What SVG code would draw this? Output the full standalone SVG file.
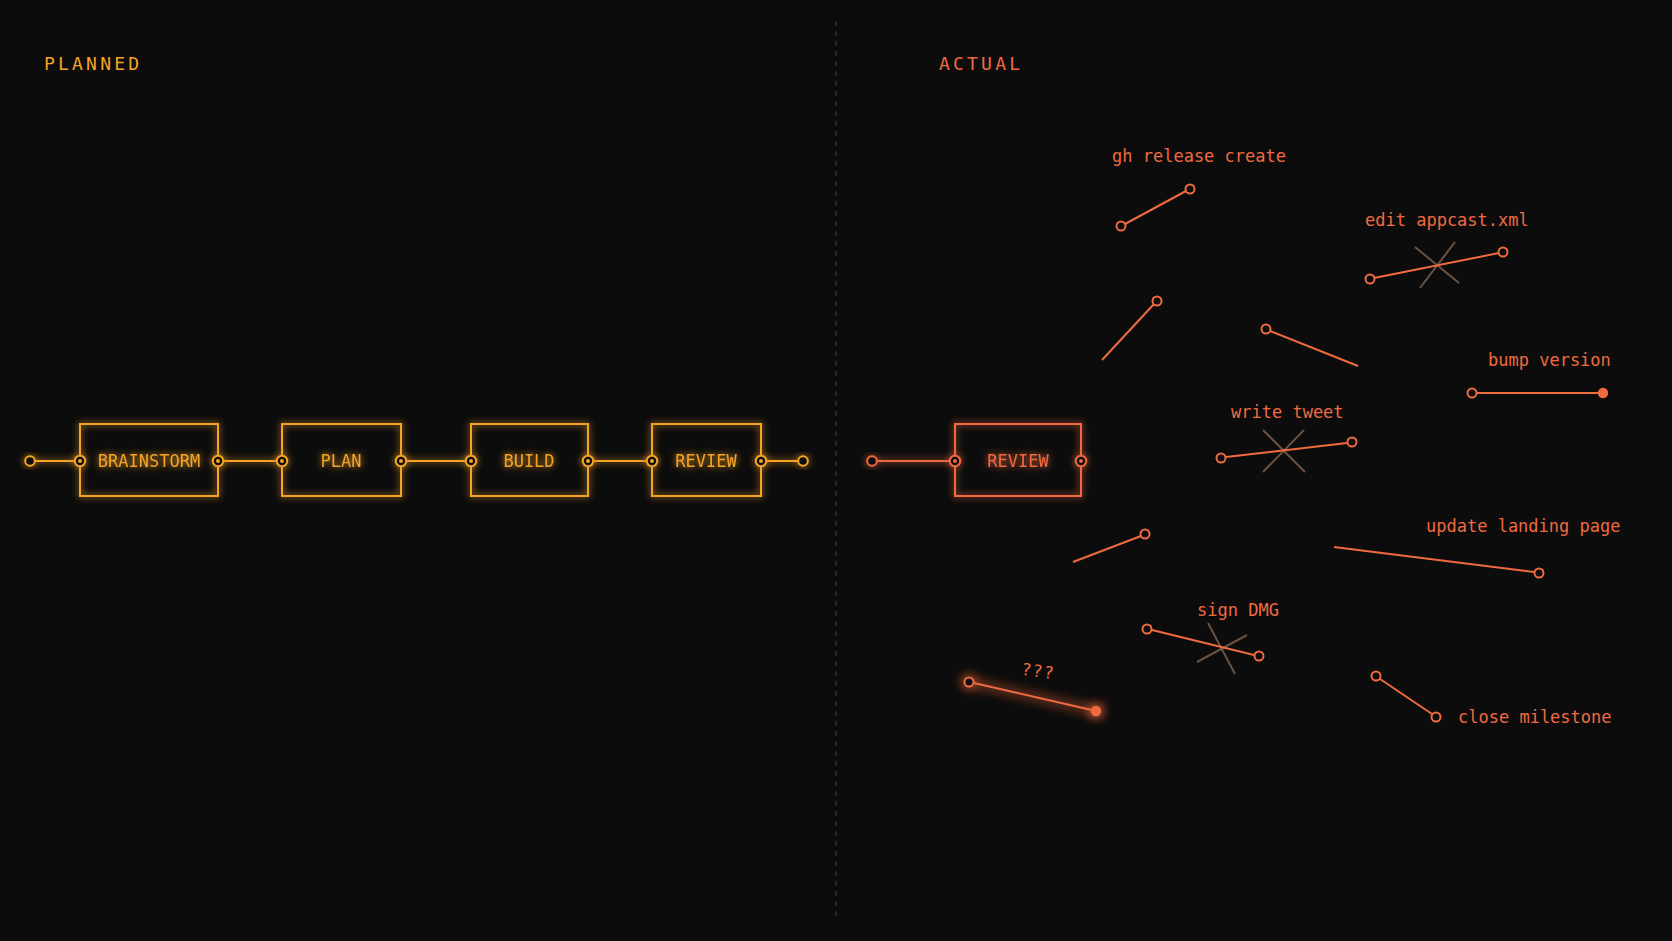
<svg xmlns="http://www.w3.org/2000/svg" width="1672" height="941" viewBox="0 0 1672 941">
<defs>
<style>
.bg{fill:#0c0c0c}
.hdr{font-family:"DejaVu Sans Mono","Liberation Mono",monospace;font-size:18px;letter-spacing:3.2px}
.amb{fill:#f5a325}
.red{fill:#f06a40}
.box{fill:none;stroke-width:2}
.ba{stroke:#f5a325}
.br{stroke:#f06a40}
.lbl{font-family:"DejaVu Sans Mono","Liberation Mono",monospace;font-size:17px}
.ntx{font-family:"DejaVu Sans Mono","Liberation Mono",monospace;font-size:17px;text-anchor:middle}
.wa{stroke:#f5a325;stroke-width:2;fill:none}
.wr{stroke:#f06a40;stroke-width:2;fill:none}
.pa{fill:#0c0c0c;stroke:#f5a325;stroke-width:2}
.pr{fill:#0c0c0c;stroke:#f06a40;stroke-width:2}
.da{fill:#f5a325}
.dr{fill:#f06a40}
.x{stroke:#8a6a55;stroke-opacity:0.75;stroke-width:2}
</style>
<filter id="glow" x="-20%" y="-40%" width="140%" height="180%">
<feGaussianBlur in="SourceGraphic" stdDeviation="3.5" result="b"/>
<feMerge><feMergeNode in="b"/><feMergeNode in="SourceGraphic"/></feMerge>
</filter>
<filter id="glow2" x="-30%" y="-100%" width="160%" height="300%">
<feGaussianBlur in="SourceGraphic" stdDeviation="6" result="b"/>
<feMerge><feMergeNode in="b"/><feMergeNode in="b"/><feMergeNode in="SourceGraphic"/></feMerge>
</filter>
</defs>
<rect class="bg" x="0" y="0" width="1672" height="941"/>
<line x1="836" y1="21" x2="836" y2="918" stroke="#3a3a3a" stroke-width="1.2" stroke-dasharray="5 5"/>
<text class="hdr amb" x="44" y="70">PLANNED</text>
<text class="hdr red" x="939" y="70">ACTUAL</text>

<g id="connectors">
<g filter="url(#glow)">
<line class="wa" x1="35" y1="461" x2="80" y2="461"/>
<line class="wa" x1="218" y1="461" x2="282" y2="461"/>
<line class="wa" x1="401" y1="461" x2="471" y2="461"/>
<line class="wa" x1="588" y1="461" x2="652" y2="461"/>
<line class="wa" x1="761" y1="461" x2="798" y2="461"/>
<circle class="pa" cx="30" cy="461" r="4.8"/>
<circle class="pa" cx="803" cy="461" r="4.8"/>
</g>
<g filter="url(#glow)">
<line class="wr" x1="877" y1="461" x2="955" y2="461"/>
<circle class="pr" cx="872" cy="461" r="4.8"/>
</g>
</g>

<g id="node-brainstorm" filter="url(#glow)">
<rect class="box ba" x="80" y="424" width="138" height="72"/>
<circle class="pa" cx="80" cy="461" r="5.2"/><circle class="da" cx="80" cy="461" r="2"/>
<circle class="pa" cx="218" cy="461" r="5.2"/><circle class="da" cx="218" cy="461" r="2"/>
<text class="ntx amb" x="149" y="467">BRAINSTORM</text>
</g>
<g id="node-plan" filter="url(#glow)">
<rect class="box ba" x="282" y="424" width="119" height="72"/>
<circle class="pa" cx="282" cy="461" r="5.2"/><circle class="da" cx="282" cy="461" r="2"/>
<circle class="pa" cx="401" cy="461" r="5.2"/><circle class="da" cx="401" cy="461" r="2"/>
<text class="ntx amb" x="341" y="467">PLAN</text>
</g>
<g id="node-build" filter="url(#glow)">
<rect class="box ba" x="471" y="424" width="117" height="72"/>
<circle class="pa" cx="471" cy="461" r="5.2"/><circle class="da" cx="471" cy="461" r="2"/>
<circle class="pa" cx="588" cy="461" r="5.2"/><circle class="da" cx="588" cy="461" r="2"/>
<text class="ntx amb" x="529" y="467">BUILD</text>
</g>
<g id="node-review-planned" filter="url(#glow)">
<rect class="box ba" x="652" y="424" width="109" height="72"/>
<circle class="pa" cx="652" cy="461" r="5.2"/><circle class="da" cx="652" cy="461" r="2"/>
<circle class="pa" cx="761" cy="461" r="5.2"/><circle class="da" cx="761" cy="461" r="2"/>
<text class="ntx amb" x="706" y="467">REVIEW</text>
</g>
<g id="node-review-actual" filter="url(#glow)">
<rect class="box br" x="955" y="424" width="126" height="72"/>
<circle class="pr" cx="955" cy="461" r="5.2"/><circle class="dr" cx="955" cy="461" r="2"/>
<circle class="pr" cx="1081" cy="461" r="5.2"/><circle class="dr" cx="1081" cy="461" r="2"/>
<text class="ntx red" x="1018" y="467">REVIEW</text>
</g>

<g id="gh-release-create">
<text class="lbl red" x="1112" y="162">gh release create</text>
<line class="wr" x1="1125" y1="224" x2="1186" y2="191"/>
<circle class="pr" cx="1121" cy="226" r="4.5"/>
<circle class="pr" cx="1190" cy="189" r="4.5"/>
</g>
<g id="edit-appcast">
<text class="lbl red" x="1365" y="226">edit appcast.xml</text>
<line class="x" x1="1415" y1="247" x2="1459" y2="283"/>
<line class="x" x1="1455" y1="242" x2="1420" y2="288"/>
<line class="wr" x1="1374" y1="278" x2="1499" y2="253"/>
<circle class="pr" cx="1370" cy="279" r="4.5"/>
<circle class="pr" cx="1503" cy="252" r="4.5"/>
</g>
<g id="stray-1">
<line class="wr" x1="1102" y1="360" x2="1154" y2="304"/>
<circle class="pr" cx="1157" cy="301" r="4.5"/>
</g>
<g id="stray-2">
<line class="wr" x1="1270" y1="331" x2="1358" y2="366"/>
<circle class="pr" cx="1266" cy="329" r="4.5"/>
</g>
<g id="bump-version">
<text class="lbl red" x="1488" y="366">bump version</text>
<line class="wr" x1="1477" y1="393" x2="1603" y2="393"/>
<circle class="pr" cx="1472" cy="393" r="4.5"/>
<circle class="dr" cx="1603" cy="393" r="5.2"/>
</g>
<g id="write-tweet">
<text class="lbl red" x="1231" y="418">write tweet</text>
<line class="x" x1="1263" y1="430" x2="1305" y2="472"/>
<line class="x" x1="1304" y1="430" x2="1263" y2="472"/>
<line class="wr" x1="1226" y1="457" x2="1347" y2="443"/>
<circle class="pr" cx="1221" cy="458" r="4.5"/>
<circle class="pr" cx="1352" cy="442" r="4.5"/>
</g>
<g id="stray-3">
<line class="wr" x1="1073" y1="562" x2="1141" y2="536"/>
<circle class="pr" cx="1145" cy="534" r="4.5"/>
</g>
<g id="update-landing-page">
<text class="lbl red" x="1426" y="532">update landing page</text>
<line class="wr" x1="1334" y1="547" x2="1534" y2="572"/>
<circle class="pr" cx="1539" cy="573" r="4.5"/>
</g>
<g id="sign-dmg">
<text class="lbl red" x="1197" y="616">sign DMG</text>
<line class="x" x1="1208" y1="623" x2="1235" y2="674"/>
<line class="x" x1="1247" y1="635" x2="1197" y2="662"/>
<line class="wr" x1="1152" y1="630" x2="1254" y2="655"/>
<circle class="pr" cx="1147" cy="629" r="4.5"/>
<circle class="pr" cx="1259" cy="656" r="4.5"/>
</g>
<g id="unknown">
<g filter="url(#glow2)">
<line class="wr" x1="974" y1="683" x2="1096" y2="711"/>
<circle class="pr" cx="969" cy="682" r="4.5"/>
<circle class="dr" cx="1096" cy="711" r="5.2"/>
</g>
<text class="lbl red" x="1021" y="677" transform="rotate(8 1037 672)" style="letter-spacing:1px">???</text>
</g>
<g id="close-milestone">
<text class="lbl red" x="1458" y="723">close milestone</text>
<line class="wr" x1="1380" y1="679" x2="1432" y2="714"/>
<circle class="pr" cx="1376" cy="676" r="4.5"/>
<circle class="pr" cx="1436" cy="717" r="4.5"/>
</g>
</svg>
